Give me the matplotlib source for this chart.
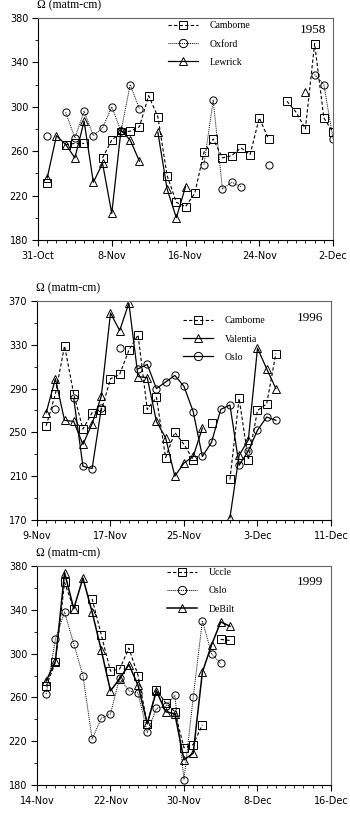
import matplotlib
matplotlib.use("Agg")
import matplotlib.pyplot as plt
import numpy as np

n = np.nan

# ---------------------------------------------------------------
# Daten: Tag 0..32 ab erstem Datum der Achse
# ---------------------------------------------------------------
tage = np.arange(33)

# 1958 (ab 31-Oct)
camborne58 = [n, 231, n, 266, 267, 267, n, 254, 270, 277, 278, 282, 310, 291, 238, 214, 210,
              222, 259, 271, 254, 256, 263, 257, 290, 271, n, 305, 295, 280, 357, 290, 277]
oxford58 = [n, 274, n, 295, 272, 296, 274, 281, 300, 278, 320, 298, n, n, n, n, n,
            n, 248, 306, 226, 232, 228, n, n, 248, n, n, n, n, 329, 320, 271]
lewrick58 = [n, 236, 274, 266, 254, 287, 232, 249, 204, 279, 270, 251, n, 277, 226, 200, 228,
             n, n, n, n, n, n, n, n, n, n, n, n, 313, n, n, n]
xlabels58 = ['31-Oct', '8-Nov', '16-Nov', '24-Nov', '2-Dec']

# 1996 (ab 9-Nov)
camborne96 = [n, 256, 285, 329, 285, 253, 268, 270, 299, 303, 325, 339, 271, 282, 227, 250, 239,
              225, n, 259, n, 207, 281, 225, 270, 276, 322, n, n, n, n, n, n]
valentia96 = [n, 268, 299, 261, 260, 239, 258, 283, 359, 343, 368, 301, 300, 260, 245, 210, 222,
              228, 254, n, n, 172, 229, 243, 327, 308, 290, n, n, n, n, n, n]
oslo96 = [n, n, 271, n, 281, 219, 217, 272, n, 327, n, 308, 312, 290, 296, 302, 292,
          269, 228, 241, 271, 275, 220, 233, 252, 264, 261, n, n, n, n, n, n]
xlabels96 = ['9-Nov', '17-Nov', '25-Nov', '3-Dec', '11-Dec']

# 1999 (ab 14-Nov)
uccle99 = [n, 270, 292, 365, 341, n, 350, 317, 284, 286, 305, 280, 236, 267, 255, 247, 214,
           217, 235, n, 313, 312, n, n, n, n, n, n, n, n, n, n, n]
oslo99 = [n, 263, 313, 338, 309, 280, 222, 241, 245, 278, 266, 264, 228, 250, 252, 262, 185,
          260, 330, 300, 291, n, n, n, n, n, n, n, n, n, n, n, n]
debilt99 = [n, 275, 293, 374, 341, 369, 338, 303, 266, 277, 290, 271, 236, 266, 247, 245, 203,
            209, 283, 308, 329, 325, n, n, n, n, n, n, n, n, n, n, n]
xlabels99 = ['14-Nov', '22-Nov', '30-Nov', '8-Dec', '16-Dec']

# ---------------------------------------------------------------
# Plotsettings
# ---------------------------------------------------------------
gestrichelt = dict(color='k', lw=0.8, dashes=(3, 2))
gepunktet = dict(color='k', lw=0.7, dashes=(1, 1))
durchgezogen = dict(color='k', lw=0.9, linestyle='-')

fig = plt.figure(figsize=(3.5, 8.13), dpi=100, facecolor='white')


def panel(pos, ylim, serien, xlabels, jahr, leg_xy):
    ax = fig.add_axes(pos)
    for werte, stil, marker, name in serien:
        ax.plot(tage, werte, marker=marker, ms=5.2, mfc='none', mec='k', mew=0.7,
                label=name, **stil)
    ax.set_xlim(0, 32)
    ax.set_ylim(*ylim)
    ax.set_xticks(np.arange(0, 33, 8))
    ax.set_xticks(np.arange(0, 33, 1), minor=True)
    ax.set_xticklabels(xlabels)
    ax.set_yticks(np.arange(ylim[0], ylim[1] + 1, 40))
    ax.set_yticks(np.arange(ylim[0], ylim[1] + 1, 20), minor=True)
    ax.tick_params(which='major', direction='out', length=4, width=0.8, labelsize=7, pad=3)
    ax.tick_params(which='minor', direction='out', length=2.5, width=0.6)
    ax.tick_params(axis='x', which='major', pad=4)
    for s in ['top', 'right']:
        ax.spines[s].set_color('#666666')
    for s in ax.spines.values():
        s.set_linewidth(0.8)
    ax.text(-0.005, 1.03, u'\u03a9 (matm-cm)', transform=ax.transAxes, ha='left', va='bottom',
            family='Liberation Serif', fontsize=8.5)
    ax.text(leg_xy[2], leg_xy[3], jahr, transform=ax.transAxes, ha='center', va='center',
            family='Liberation Serif', fontsize=9.5)
    ax.legend(loc='upper left', bbox_to_anchor=(leg_xy[0], leg_xy[1]), frameon=False,
              prop={'family': 'Liberation Serif', 'size': 7}, numpoints=1, markerscale=1.15,
              handlelength=3.1, handletextpad=1.2, labelspacing=0.95, borderpad=0,
              borderaxespad=0)
    return ax


panel([0.1086, 0.7048, 0.843, 0.2731], (180, 380),
      [(camborne58, gestrichelt, 's', 'Camborne'),
       (oxford58, gepunktet, 'o', 'Oxford'),
       (lewrick58, durchgezogen, '^', 'Lewrick')],
      xlabels58, '1958', (0.44, 0.985, 0.932, 0.946))

panel([0.1057, 0.3604, 0.840, 0.2694], (170, 370),
      [(camborne96, gestrichelt, 's', 'Camborne'),
       (valentia96, durchgezogen, '^', 'Valentia'),
       (oslo96, durchgezogen, 'o', 'Oslo')],
      xlabels96, '1996', (0.497, 0.93, 0.928, 0.922))

panel([0.1057, 0.0344, 0.840, 0.2694], (180, 380),
      [(uccle99, gestrichelt, 's', 'Uccle'),
       (oslo99, gepunktet, 'o', 'Oslo'),
       (debilt99, dict(color='k', lw=1.1, linestyle='-'), '^', 'DeBilt')],
      xlabels99, '1999', (0.442, 0.99, 0.928, 0.927))

plt.savefig('out.png', dpi=100)
